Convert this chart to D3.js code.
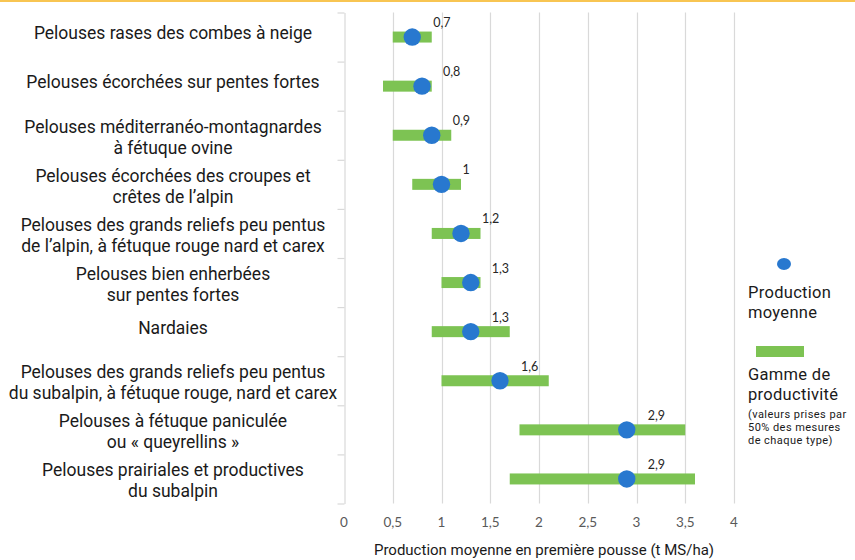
<!DOCTYPE html>
<html>
<head>
<meta charset="utf-8">
<script src="https://cdn.jsdelivr.net/npm/d3@7"></script>
<style>
  body { margin: 0; background: #fff; }
  svg { display: block; }
</style>
</head>
<body>
<svg width="855" height="560"></svg>
<script>
// categories (one entry per line of the label)
var categories = [
    ["Pelouses rases des combes à neige"],
    ["Pelouses écorchées sur pentes fortes"],
    ["Pelouses méditerranéo-montagnardes", "à fétuque ovine"],
    ["Pelouses écorchées des croupes et", "crêtes de l\u2019alpin"],
    ["Pelouses des grands reliefs peu pentus", "de l\u2019alpin, à fétuque rouge nard et carex"],
    ["Pelouses bien enherbées", "sur pentes fortes"],
    ["Nardaies"],
    ["Pelouses des grands reliefs peu pentus", "du subalpin, à fétuque rouge, nard et carex"],
    ["Pelouses à fétuque paniculée", "ou « queyrellins »"],
    ["Pelouses prairiales et productives", "du subalpin"]
];

// production moyenne (t MS/ha)
var meanValues = [0.7, 0.8, 0.9, 1.0, 1.2, 1.3, 1.3, 1.6, 2.9, 2.9];
// gamme de productivite (min / max)
var rangeMin = [0.5, 0.4, 0.5, 0.7, 0.9, 1.0, 0.9, 1.0, 1.8, 1.7];
var rangeMax = [0.9, 0.9, 1.1, 1.2, 1.4, 1.4, 1.7, 2.1, 3.5, 3.6];

var xTicks = [0, 0.5, 1, 1.5, 2, 2.5, 3, 3.5, 4];

var blue = "#2878cf";
var green = "#7dc353";
var grid = "#d9d9d9";
var labelFont = "Roboto, sans-serif";

var svg = d3.select("svg");

// top orange rule
svg.append("rect")
    .attr("x", 0).attr("y", 0)
    .attr("width", 855).attr("height", 2)
    .attr("fill", "#f8c552");

var x = d3.scaleLinear().domain([0, 4]).range([344, 734]);
var y = d3.scaleBand().domain(d3.range(categories.length)).range([12.5, 503.5]);
var yEdges = d3.scaleLinear().domain([0, categories.length]).range([12.5, 503.5]);

var frFormat = function (v) { return String(v).replace(".", ","); };

// vertical gridlines
svg.append("g")
    .selectAll("line")
    .data(xTicks.filter(function (d) { return d > 0; }))
    .enter()
    .append("line")
    .attr("x1", function (d) { return Math.round(x(d)) + 0.5; })
    .attr("x2", function (d) { return Math.round(x(d)) + 0.5; })
    .attr("y1", 12.5)
    .attr("y2", 503.5)
    .attr("stroke", grid)
    .attr("stroke-width", 1.2);

// y axis, ticks at the category boundaries
var yAxis = svg.append("g")
    .attr("transform", "translate(344.5,0)")
    .call(d3.axisLeft(yEdges).tickValues(d3.range(categories.length + 1)).tickSize(7).tickSizeOuter(0).tickFormat(""));
yAxis.selectAll("path, line").attr("stroke", grid).attr("stroke-width", 1.2);

// x tick labels
svg.append("g")
    .selectAll("text")
    .data(xTicks)
    .enter()
    .append("text")
    .attr("x", function (d) { return x(d); })
    .attr("y", 527)
    .attr("text-anchor", "middle")
    .attr("font-family", "Lato, 'Open Sans', sans-serif")
    .attr("font-size", 13.5)
    .attr("fill", "#595959")
    .text(frFormat);

// range bars
svg.append("g")
    .selectAll("rect")
    .data(meanValues)
    .enter()
    .append("rect")
    .attr("x", function (d, i) { return x(rangeMin[i]); })
    .attr("width", function (d, i) { return x(rangeMax[i]) - x(rangeMin[i]); })
    .attr("y", function (d, i) { return y(i) + y.bandwidth() / 2 - 5.5; })
    .attr("height", 11)
    .attr("fill", green);

// mean dots
svg.append("g")
    .selectAll("circle")
    .data(meanValues)
    .enter()
    .append("circle")
    .attr("cx", function (d) { return x(d); })
    .attr("cy", function (d, i) { return y(i) + y.bandwidth() / 2; })
    .attr("r", 8.7)
    .attr("fill", blue);

// data labels
svg.append("g")
    .selectAll("text")
    .data(meanValues)
    .enter()
    .append("text")
    .attr("x", function (d) { return x(d) + 21; })
    .attr("y", function (d, i) { return y(i) + y.bandwidth() / 2 - 10; })
    .attr("font-family", "Lato, 'Open Sans', sans-serif")
    .attr("font-size", 12.5)
    .attr("fill", "#262626")
    .text(frFormat);

// category labels
var labels = svg.append("g")
    .selectAll("text")
    .data(categories)
    .enter()
    .append("text")
    .attr("text-anchor", "middle")
    .attr("font-family", labelFont)
    .attr("font-size", 17.5)
    .attr("fill", "#1a1a1a");

labels.each(function (lines, i) {
    var cy = y(i) + y.bandwidth() / 2;
    var lh = 21;
    var top = lines.length > 1 ? cy + 2 - lh / 2 : cy - 4;
    d3.select(this).selectAll("tspan")
        .data(lines)
        .enter()
        .append("tspan")
        .attr("x", 173)
        .attr("y", function (d, j) { return top + j * lh + 6; })
        .text(function (d) { return d; });
});

// x axis title
svg.append("text")
    .attr("x", 544)
    .attr("y", 555)
    .attr("text-anchor", "middle")
    .attr("font-family", labelFont)
    .attr("font-size", 15)
    .attr("fill", "#1a1a1a")
    .text("Production moyenne en première pousse (t MS/ha)");

// legend
var legend = svg.append("g").attr("font-family", labelFont).attr("fill", "#1a1a1a");
legend.append("ellipse")
    .attr("cx", 784).attr("cy", 264)
    .attr("rx", 7).attr("ry", 6)
    .attr("fill", blue);
legend.append("text").attr("x", 748).attr("y", 298).attr("font-size", 16.5).attr("letter-spacing", 0.3).text("Production");
legend.append("text").attr("x", 748).attr("y", 317.5).attr("font-size", 16.5).attr("letter-spacing", 0.3).text("moyenne");
legend.append("rect")
    .attr("x", 756).attr("y", 346)
    .attr("width", 48).attr("height", 11)
    .attr("fill", green);
legend.append("text").attr("x", 748).attr("y", 380).attr("font-size", 16.5).attr("letter-spacing", 0.3).text("Gamme de");
legend.append("text").attr("x", 748).attr("y", 399.5).attr("font-size", 16.5).attr("letter-spacing", 0.3).text("productivité");
legend.append("text").attr("x", 748).attr("y", 418).attr("font-size", 11).attr("letter-spacing", 0.45).text("(valeurs prises par");
legend.append("text").attr("x", 748).attr("y", 431).attr("font-size", 11).attr("letter-spacing", 0.45).text("50% des mesures");
legend.append("text").attr("x", 748).attr("y", 444).attr("font-size", 11).attr("letter-spacing", 0.45).text("de chaque type)");
</script>
</body>
</html>
